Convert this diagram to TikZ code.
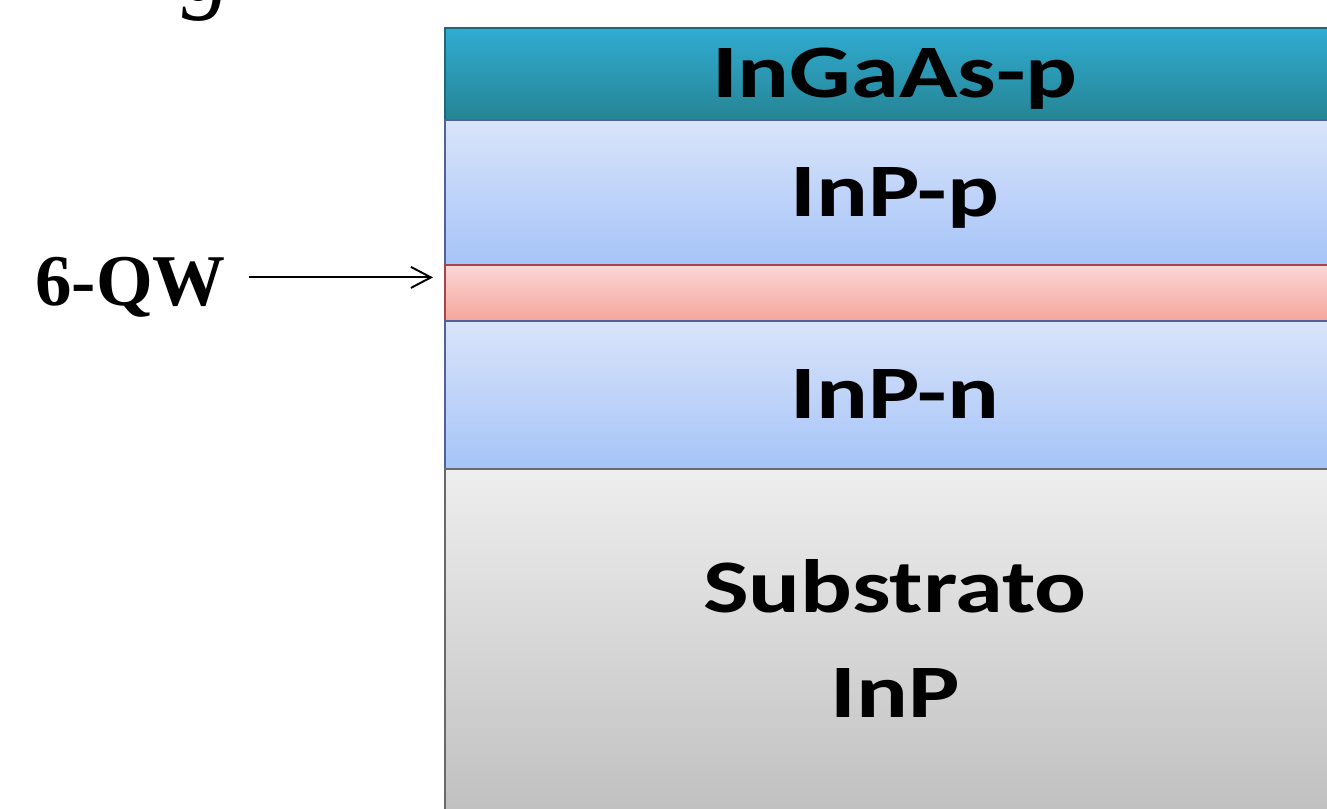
\documentclass[tikz,border=0pt]{standalone}
\usepackage{fontspec}
\usepackage{tikz}
\usetikzlibrary{arrows.meta,positioning,calc}

\newfontfamily\layerfont[FakeStretch=1.28]{Carlito}
\newfontfamily\qwfont{Liberation Serif}

\definecolor{tealtop}{RGB}{48,172,210}
\definecolor{tealbot}{RGB}{38,132,148}
\definecolor{tealline}{RGB}{30,105,120}
\definecolor{inptop}{RGB}{218,228,250}
\definecolor{inpbot}{RGB}{165,196,248}
\definecolor{inpline}{RGB}{80,98,155}
\definecolor{qwtop}{RGB}{250,214,214}
\definecolor{qwbot}{RGB}{245,165,155}
\definecolor{qwline}{RGB}{165,70,70}
\definecolor{subtop}{RGB}{238,238,238}
\definecolor{subbot}{RGB}{192,192,192}
\definecolor{subline}{RGB}{105,105,105}

\begin{document}
\begin{tikzpicture}[
  x=0.02cm, y=-0.02cm,
  >=Latex,
  layer/.style={
    rectangle, outer sep=0pt, inner sep=0pt,
    minimum width=18cm, line width=1.2pt,
    font=\layerfont\bfseries\fontsize{43}{60}\selectfont,
    text height=27pt, text depth=0pt, align=center
  },
  arr/.style={-{Straight Barb[length=0.4cm,width=0.42cm]}, line width=1.1pt}
]
\useasboundingbox (0,0) rectangle (1327,808);

% cut-off caption letter
\node[font=\qwfont\itshape\fontsize{56}{56}\selectfont, inner sep=0pt,
      anchor=base] (capg) at (207,1) {g};

% layer stack
\node[layer, anchor=north west, minimum height=1.84cm,
      top color=tealtop, bottom color=tealbot, draw=tealline]
      (ingaas) at (445,28) {InGaAs-p};
\node[layer, below=0pt of ingaas, minimum height=2.9cm,
      top color=inptop, bottom color=inpbot, draw=inpline]
      (inpp) {InP-p};
\node[layer, below=0pt of inpp, minimum height=1.12cm,
      top color=qwtop, bottom color=qwbot, draw=qwline]
      (qw) {};
\node[layer, below=0pt of qw, minimum height=2.96cm,
      top color=inptop, bottom color=inpbot, draw=inpline]
      (inpn) {InP-n};
\node[layer, below=0pt of inpn, minimum height=6.9cm,
      top color=subtop, bottom color=subbot, draw=subline,
      text height=87pt]
      (sub) {Substrato\\InP};

% quantum well label
\node[font=\qwfont\bfseries\fontsize{41.5}{45}\selectfont, inner sep=0pt,
      text height=28pt, text depth=0pt, anchor=base west]
      (qwlabel) at (35,305) {6-QW};

% Arrows
\draw[arr, shorten <=0.46cm, shorten >=0.24cm]
  ($(qwlabel.east)+(0,-3)$) -- ($(qwlabel.east -| qw.west)+(0,-3)$);

\end{tikzpicture}
\end{document}
